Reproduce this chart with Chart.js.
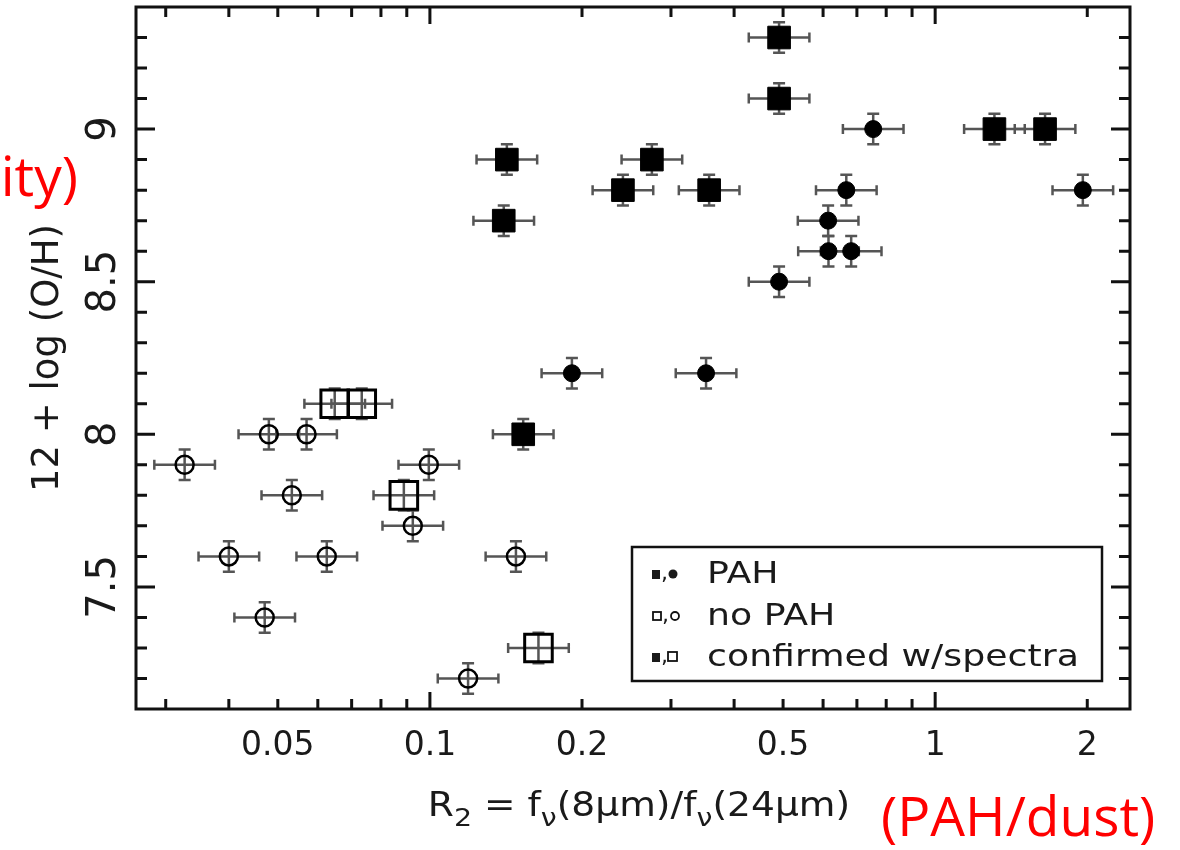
<!DOCTYPE html>
<html>
<head>
<meta charset="utf-8">
<script src="https://cdn.jsdelivr.net/npm/chart.js@4.4.1/dist/chart.umd.min.js"></script>
<style>
  html, body { margin: 0; background: #fff; }
</style>
</head>
<body>
<canvas id="chart" width="1180" height="850"></canvas>
<script>
// PAH detected, confirmed with spectra (filled squares)
const pahSquareX = [0.491, 0.491, 0.142, 0.140, 0.241, 0.275, 0.357, 1.31, 1.65, 0.153];
const pahSquareY = [9.3, 9.1, 8.9, 8.7, 8.8, 8.9, 8.8, 9.0, 9.0, 8.0];
// PAH detected (filled circles)
const pahCircleX = [0.754, 0.667, 0.614, 0.615, 0.682, 1.96, 0.491, 0.191, 0.352];
const pahCircleY = [9.0, 8.8, 8.7, 8.6, 8.6, 8.8, 8.5, 8.2, 8.2];
// no PAH, confirmed with spectra (open squares)
const noPahSquareX = [0.0648, 0.0733, 0.0888, 0.164];
const noPahSquareY = [8.1, 8.1, 7.8, 7.3];
// no PAH (open circles)
const noPahCircleX = [0.0327, 0.048, 0.057, 0.0533, 0.040, 0.0625, 0.0471, 0.0995, 0.0925, 0.148, 0.119];
const noPahCircleY = [7.9, 8.0, 8.0, 7.8, 7.6, 7.6, 7.4, 7.9, 7.7, 7.6, 7.2];

const xErrDex = 0.06;   // horizontal error bar, in dex
const yErr = 0.05;      // vertical error bar

const xTickValues = [0.05, 0.1, 0.2, 0.5, 1, 2];
const xTickLabels = ['0.05', '0.1', '0.2', '0.5', '1', '2'];
const xDecadeTicks = [0.1, 1];
const xMinorTicks = [0.03, 0.04, 0.05, 0.06, 0.07, 0.08, 0.09, 0.2, 0.3, 0.4, 0.5, 0.6, 0.7, 0.8, 0.9, 2];
const yTickValues = [7.5, 8, 8.5, 9];
const yTickLabels = ['7.5', '8', '8.5', '9'];
const yMinorTicks = [7.2, 7.3, 7.4, 7.6, 7.7, 7.8, 7.9, 8.1, 8.2, 8.3, 8.4, 8.6, 8.7, 8.8, 8.9, 9.1, 9.2, 9.3];
const legendLabels = ['PAH', 'no PAH', 'confirmed w/spectra'];

const FONT = 'DejaVu Sans';
const INK = '#1a1a1a';

const toPoints = (xs, ys) => xs.map((x, i) => ({ x: x, y: ys[i] }));

const makeSet = (xs, ys, style, r, fill, bw) => ({
  data: toPoints(xs, ys),
  pointStyle: style,
  pointRadius: r,
  pointHoverRadius: r,
  backgroundColor: fill,
  borderColor: '#000',
  borderWidth: bw,
  pointHoverBorderWidth: bw
});

function stretchText(ctx, str, x, y, size, sx, align) {
  ctx.save();
  ctx.translate(x, y);
  ctx.scale(sx, 1);
  ctx.font = size + 'px "' + FONT + '"';
  ctx.textAlign = align || 'left';
  ctx.textBaseline = 'alphabetic';
  ctx.fillText(str, 0, 0);
  ctx.restore();
}

const errorBars = {
  id: 'errorBars',
  beforeDatasetsDraw(chart) {
    const { ctx, scales: { x, y } } = chart;
    const f = Math.pow(10, xErrDex);
    ctx.save();
    ctx.strokeStyle = '#555';
    ctx.lineWidth = 2.5;
    chart.data.datasets.forEach(ds => ds.data.forEach(p => {
      const px = x.getPixelForValue(p.x), py = y.getPixelForValue(p.y);
      const xl = x.getPixelForValue(p.x / f), xr = x.getPixelForValue(p.x * f);
      const yt = y.getPixelForValue(p.y + yErr), yb = y.getPixelForValue(p.y - yErr);
      ctx.beginPath();
      ctx.moveTo(xl, py); ctx.lineTo(xr, py);
      ctx.moveTo(xl, py - 5); ctx.lineTo(xl, py + 5);
      ctx.moveTo(xr, py - 5); ctx.lineTo(xr, py + 5);
      ctx.moveTo(px, yt); ctx.lineTo(px, yb);
      ctx.moveTo(px - 6, yt); ctx.lineTo(px + 6, yt);
      ctx.moveTo(px - 6, yb); ctx.lineTo(px + 6, yb);
      ctx.stroke();
    }));
    ctx.restore();
  }
};

const frame = {
  id: 'frame',
  afterDraw(chart) {
    const { ctx, chartArea: a, scales: { x, y } } = chart;
    ctx.save();
    ctx.strokeStyle = '#111';
    ctx.lineWidth = 3;
    ctx.strokeRect(a.left, a.top, a.right - a.left, a.bottom - a.top);

    // inward ticks on all four sides
    ctx.beginPath();
    const xt = (v, len) => {
      const px = x.getPixelForValue(v);
      ctx.moveTo(px, a.bottom); ctx.lineTo(px, a.bottom - len);
      ctx.moveTo(px, a.top); ctx.lineTo(px, a.top + len);
    };
    const yt = (v, len) => {
      const py = y.getPixelForValue(v);
      ctx.moveTo(a.left, py); ctx.lineTo(a.left + len, py);
      ctx.moveTo(a.right, py); ctx.lineTo(a.right - len, py);
    };
    xMinorTicks.forEach(v => xt(v, 10));
    xDecadeTicks.forEach(v => xt(v, 17));
    yMinorTicks.forEach(v => yt(v, 11));
    yTickValues.forEach(v => yt(v, 19));
    ctx.stroke();

    ctx.fillStyle = INK;
    // rotated y tick labels
    yTickValues.forEach((v, i) => {
      ctx.save();
      ctx.translate(115, y.getPixelForValue(v));
      ctx.rotate(-Math.PI / 2);
      ctx.font = '40px "' + FONT + '"';
      ctx.textAlign = 'center';
      ctx.textBaseline = 'alphabetic';
      ctx.fillText(yTickLabels[i], 0, 0);
      ctx.restore();
    });

    // y axis title
    ctx.save();
    ctx.translate(58, (a.top + a.bottom) / 2);
    ctx.rotate(-Math.PI / 2);
    ctx.font = '37px "' + FONT + '"';
    ctx.textAlign = 'center';
    ctx.fillText('12 + log (O/H)', 0, 0);
    ctx.restore();

    // x axis title with subscripts
    const sx = 1.14, big = 33, small = 25;
    const parts = [
      ['R', false], ['2', true], [' = f', false], ['ν', true],
      ['(8μm)/f', false], ['ν', true], ['(24μm)', false]
    ];
    let total = 0;
    parts.forEach(([t, sub]) => {
      ctx.font = (sub ? small : big) + 'px "' + FONT + '"';
      total += ctx.measureText(t).width * sx;
    });
    let cx = 639 - total / 2;
    parts.forEach(([t, sub]) => {
      const size = sub ? small : big;
      stretchText(ctx, t, cx, sub ? 826 : 816, size, sx, 'left');
      ctx.font = size + 'px "' + FONT + '"';
      cx += ctx.measureText(t).width * sx;
    });

    // legend box
    ctx.lineWidth = 2.5;
    ctx.strokeStyle = '#111';
    ctx.strokeRect(632, 547, 470, 134);
    const rows = [583, 625, 666];
    const comma = (cxx, by) => stretchText(ctx, ',', cxx, by, 22, 1, 'left');
    ctx.lineWidth = 1.8;
    // row 1: filled square, filled circle
    ctx.fillRect(652, rows[0] - 13, 8, 9);
    comma(661, rows[0] - 3);
    ctx.beginPath(); ctx.arc(673, rows[0] - 9, 4.5, 0, Math.PI * 2); ctx.fill();
    // row 2: open square, open circle
    ctx.strokeRect(653, rows[1] - 13, 8, 8);
    comma(662, rows[1] - 3);
    ctx.beginPath(); ctx.arc(675, rows[1] - 9, 4, 0, Math.PI * 2); ctx.stroke();
    // row 3: filled square, open square
    ctx.fillRect(652, rows[2] - 13, 8, 9);
    comma(661, rows[2] - 3);
    ctx.strokeRect(668, rows[2] - 14, 9, 9);
    legendLabels.forEach((t, i) => stretchText(ctx, t, 707, rows[i], 31, 1.17, 'left'));

    // red annotations
    ctx.fillStyle = '#ff0000';
    ctx.font = '55px "Open Sans"';
    ctx.textBaseline = 'alphabetic';
    ctx.textAlign = 'left';
    ctx.fillText('(PAH/dust)', 881, 836);
    ctx.textAlign = 'right';
    ctx.fillText('ity)', 78, 196);
    ctx.restore();
  }
};

new Chart(document.getElementById('chart').getContext('2d'), {
  type: 'scatter',
  data: {
    datasets: [
      makeSet(noPahCircleX, noPahCircleY, 'circle', 9, 'rgba(0,0,0,0)', 2.5),
      makeSet(noPahSquareX, noPahSquareY, 'rect', 19.5, 'rgba(0,0,0,0)', 3),
      makeSet(pahCircleX, pahCircleY, 'circle', 8.5, '#000', 1),
      makeSet(pahSquareX, pahSquareY, 'rect', 16, '#000', 1)
    ]
  },
  options: {
    responsive: false,
    animation: false,
    layout: { autoPadding: false, padding: { left: 0, right: 50, top: 7, bottom: 0 } },
    plugins: { legend: { display: false }, tooltip: { enabled: false } },
    scales: {
      x: {
        type: 'logarithmic',
        min: 0.0262,
        max: 2.43,
        grid: { display: false, drawTicks: false },
        border: { display: false },
        afterBuildTicks: s => { s.ticks = xTickValues.map(v => ({ value: v })); },
        afterFit: s => { s.height = 141; },
        ticks: {
          autoSkip: false,
          maxRotation: 0,
          padding: 18,
          color: INK,
          font: { family: FONT, size: 33 },
          callback: (v, i) => xTickLabels[i]
        }
      },
      y: {
        min: 7.1,
        max: 9.4,
        grid: { display: false, drawTicks: false },
        border: { display: false },
        ticks: { display: false },
        afterFit: s => { s.width = 136; }
      }
    }
  },
  plugins: [errorBars, frame]
});
</script>
</body>
</html>
